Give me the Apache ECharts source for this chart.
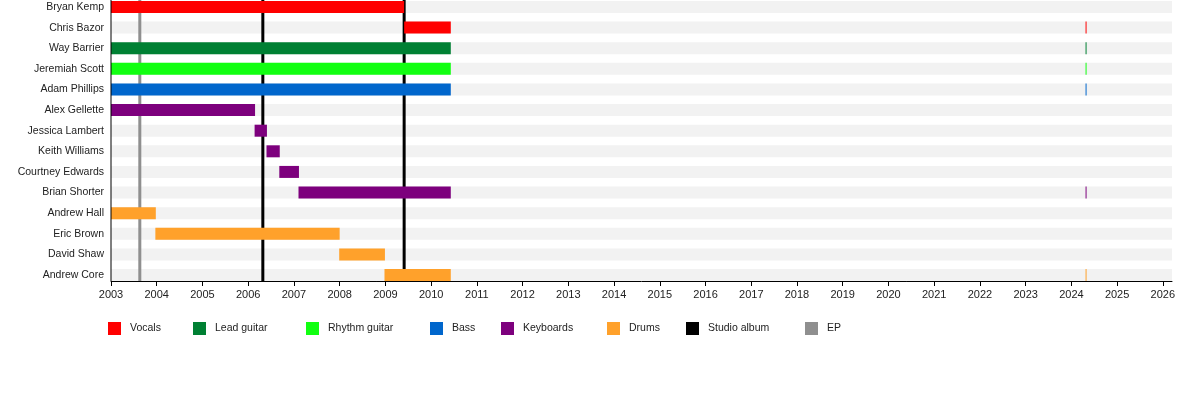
<!DOCTYPE html>
<html>
<head>
<meta charset="utf-8">
<title>Band members timeline</title>
<script src="https://cdn.jsdelivr.net/npm/echarts@6/dist/echarts.min.js"></script>
<style>
  html, body { margin: 0; padding: 0; background: #fff; }
  #main { width: 1200px; height: 400px; }
</style>
</head>
<body>
<div id="main"></div>
<script>
// members, top to bottom
var members = ['Bryan Kemp', 'Chris Bazor', 'Way Barrier', 'Jeremiah Scott', 'Adam Phillips',
  'Alex Gellette', 'Jessica Lambert', 'Keith Williams', 'Courtney Edwards', 'Brian Shorter',
  'Andrew Hall', 'Eric Brown', 'David Shaw', 'Andrew Core'];

// [member, from, to]
var vocals = [['Bryan Kemp', 2003, 2009.41], ['Chris Bazor', 2009.41, 2010.43], ['Chris Bazor', 2024.31, 2024.33]];
var leadGuitar = [['Way Barrier', 2003, 2010.43], ['Way Barrier', 2024.31, 2024.33]];
var rhythmGuitar = [['Jeremiah Scott', 2003, 2010.43], ['Jeremiah Scott', 2024.31, 2024.33]];
var bass = [['Adam Phillips', 2003, 2010.43], ['Adam Phillips', 2024.31, 2024.33]];
var keyboards = [['Alex Gellette', 2003, 2006.15], ['Jessica Lambert', 2006.14, 2006.41],
  ['Keith Williams', 2006.4, 2006.69], ['Courtney Edwards', 2006.68, 2007.11],
  ['Brian Shorter', 2007.1, 2010.43], ['Brian Shorter', 2024.31, 2024.33]];
var drums = [['Andrew Hall', 2003, 2003.98], ['Eric Brown', 2003.97, 2008.0],
  ['David Shaw', 2007.99, 2008.99], ['Andrew Core', 2008.98, 2010.43], ['Andrew Core', 2024.31, 2024.33]];

var studioAlbums = [2006.32, 2009.41];
var eps = [2003.63];

var years = ['2003', '2004', '2005', '2006', '2007', '2008', '2009', '2010', '2011', '2012', '2013', '2014',
  '2015', '2016', '2017', '2018', '2019', '2020', '2021', '2022', '2023', '2024', '2025', '2026'];

var legendNames = ['Vocals', 'Lead guitar', 'Rhythm guitar', 'Bass', 'Keyboards', 'Drums', 'Studio album', 'EP'];
var legendLeft = [108, 193, 306, 430, 501, 607, 686, 805];

var FONT = "'Liberation Sans', Arial, sans-serif";
var BAR_H = 12;

function toRows(list) {
  return list.map(function (d) { return [members.indexOf(d[0]), d[1], d[2]]; });
}

function renderBar(params, api) {
  var a = api.coord([api.value(1), api.value(0)]);
  var b = api.coord([api.value(2), api.value(0)]);
  return {
    type: 'rect',
    shape: { x: a[0], y: a[1] - BAR_H / 2, width: Math.max(b[0] - a[0], 1), height: BAR_H },
    style: api.style()
  };
}

function renderBand(params, api) {
  var p = api.coord([2003, api.value(0)]);
  var cs = params.coordSys;
  return {
    type: 'rect',
    shape: { x: cs.x, y: p[1] - BAR_H / 2, width: cs.width, height: BAR_H },
    style: { fill: '#f2f2f2' }
  };
}

function renderLine(params, api) {
  var top = api.coord([api.value(0), 0]);
  var bottom = api.coord([api.value(0), members.length - 1]);
  return {
    type: 'line',
    shape: { x1: top[0], y1: top[1] - 7, x2: top[0], y2: bottom[1] + 6 },
    style: { stroke: api.visual('color'), lineWidth: 3 }
  };
}

function renderFrame(params, api) {
  var top = api.coord([api.value(0), 0]);
  var bottom = api.coord([api.value(0), members.length - 1]);
  return {
    type: 'line',
    shape: { x1: top[0], y1: top[1] - 7, x2: top[0], y2: bottom[1] + 6 },
    style: { stroke: '#000', lineWidth: 1 }
  };
}

function barSeries(name, color, list) {
  return {
    name: name,
    type: 'custom',
    renderItem: renderBar,
    itemStyle: { color: color },
    encode: { x: [1, 2], y: 0 },
    data: toRows(list),
    z: 4
  };
}

function lineSeries(name, color, list) {
  return {
    name: name,
    type: 'custom',
    renderItem: renderLine,
    itemStyle: { color: color },
    encode: { x: 0 },
    data: list.map(function (v) { return [v]; }),
    z: 3
  };
}

var myChart = echarts.init(document.getElementById('main'));

myChart.setOption({
  animation: false,
  textStyle: { fontFamily: FONT },
  grid: { left: 111, right: 28, top: 7, height: 268 },
  legend: legendNames.map(function (n, i) {
    return {
      data: [n],
      left: legendLeft[i],
      top: 322,
      padding: 0,
      icon: 'rect',
      itemWidth: 13,
      itemHeight: 13,
      selectedMode: false,
      textStyle: { fontFamily: FONT, fontSize: 10.5, color: '#222', padding: [0, 0, 0, 4] }
    };
  }),
  xAxis: {
    type: 'value',
    min: 2003,
    max: 2026.2,
    offset: 6,
    splitLine: { show: false },
    axisLine: { show: true, lineStyle: { color: '#000', width: 1 } },
    axisTick: { show: true, length: 5, customValues: years.map(Number), lineStyle: { color: '#000' } },
    axisLabel: {
      customValues: years.map(Number),
      color: '#222', fontSize: 11, fontFamily: FONT, margin: 8,
      formatter: function (v) { return String(Math.round(v)); }
    }
  },
  yAxis: {
    type: 'category',
    data: members,
    inverse: true,
    boundaryGap: false,
    axisLine: { show: false },
    axisTick: { show: false },
    splitLine: { show: false },
    axisLabel: { color: '#222', fontSize: 10.5, fontFamily: FONT, margin: 7 }
  },
  series: [
    {
      name: 'band',
      type: 'custom',
      renderItem: renderBand,
      encode: { y: 0 },
      data: members.map(function (m, i) { return [i]; }),
      z: 1,
      silent: true
    },
    {
      name: 'frame',
      type: 'custom',
      renderItem: renderFrame,
      encode: { x: 0 },
      data: [[2003]],
      z: 5,
      silent: true
    },
    barSeries('Vocals', '#ff0000', vocals),
    barSeries('Lead guitar', '#008033', leadGuitar),
    barSeries('Rhythm guitar', '#11ff11', rhythmGuitar),
    barSeries('Bass', '#0066cc', bass),
    barSeries('Keyboards', '#7d007d', keyboards),
    barSeries('Drums', '#ffa12b', drums),
    lineSeries('Studio album', '#000000', studioAlbums),
    lineSeries('EP', '#8f8f8f', eps)
  ]
});
</script>
</body>
</html>
